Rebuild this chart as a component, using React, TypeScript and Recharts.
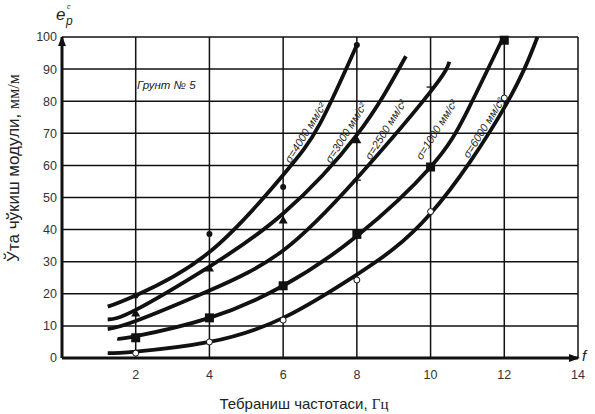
import React from "react";
import {
  ComposedChart,
  Line,
  Scatter,
  XAxis,
  YAxis,
  CartesianGrid,
  ReferenceDot,
} from "recharts";

// axis ticks
const freqTicks = [2, 4, 6, 8, 10, 12, 14];
const strainTicks = [0, 10, 20, 30, 40, 50, 60, 70, 80, 90, 100];

// fitted curves (f in Hz, e in mm/m)
const curve4000 = [
  { f: 1.24, e: 16 },
  { f: 2, e: 19.5 },
  { f: 4, e: 33 },
  { f: 6, e: 57 },
  { f: 7, e: 73 },
  { f: 8, e: 97.5 },
];
const curve3000 = [
  { f: 1.24, e: 12 },
  { f: 2, e: 15 },
  { f: 4, e: 28.5 },
  { f: 6, e: 45 },
  { f: 8, e: 69.5 },
  { f: 9.33, e: 94 },
];
const curve2500 = [
  { f: 1.24, e: 9 },
  { f: 2, e: 11.5 },
  { f: 4, e: 21 },
  { f: 6, e: 33.5 },
  { f: 8, e: 56 },
  { f: 10, e: 83 },
  { f: 10.51, e: 92.3 },
];
const curve1000 = [
  { f: 1.5, e: 6 },
  { f: 2, e: 6.8 },
  { f: 4, e: 12.5 },
  { f: 6, e: 22.5 },
  { f: 8, e: 38 },
  { f: 10, e: 59.5 },
  { f: 11, e: 77 },
  { f: 11.96, e: 99.6 },
];
const curve6000 = [
  { f: 1.24, e: 1.5 },
  { f: 2, e: 2 },
  { f: 4, e: 5 },
  { f: 6, e: 12.5 },
  { f: 8, e: 26 },
  { f: 10, e: 45 },
  { f: 12, e: 78 },
  { f: 12.9, e: 100 },
];

// measured points
const dots4000 = [
  { f: 2, e: 19.5 },
  { f: 4, e: 38.6 },
  { f: 6, e: 53.3 },
  { f: 8, e: 97.5 },
];
const tri3000 = [
  { f: 2, e: 14 },
  { f: 4, e: 28 },
  { f: 6, e: 43 },
  { f: 8, e: 68 },
];
const plus2500 = [
  { f: 8, e: 55.4 },
  { f: 10, e: 84.4 },
];
const sq1000 = [
  { f: 2, e: 6.3 },
  { f: 4, e: 12.5 },
  { f: 6, e: 22.5 },
  { f: 8, e: 38.5 },
  { f: 10, e: 59.5 },
  { f: 12, e: 99 },
];
const circ6000 = [
  { f: 2, e: 1.5 },
  { f: 4, e: 5 },
  { f: 6, e: 11.8 },
  { f: 8, e: 24.3 },
  { f: 10, e: 45.6 },
  { f: 12, e: 81 },
];

// curve captions and where they sit
const curveLabels = [
  { text: "σ=4000 мм/с²", f: 6.62, e: 70 },
  { text: "σ=3000 мм/с²", f: 7.72, e: 70 },
  { text: "σ=2500 мм/с²", f: 8.8, e: 71 },
  { text: "σ=1000 мм/с²", f: 10.18, e: 71 },
  { text: "σ=6000 мм/с²", f: 11.46, e: 71.5 },
];

const INK = "#111";

const DotShape = (p: any) => <circle cx={p.cx} cy={p.cy} r={3} fill={INK} />;
const TriShape = (p: any) => (
  <polygon
    points={`${p.cx},${p.cy - 4.5} ${p.cx - 4.5},${p.cy + 3.5} ${p.cx + 4.5},${p.cy + 3.5}`}
    fill={INK}
  />
);
const PlusShape = (p: any) => (
  <g stroke={INK} strokeWidth={1.3}>
    <line x1={p.cx - 4} y1={p.cy} x2={p.cx + 4} y2={p.cy} />
    <line x1={p.cx} y1={p.cy - 4} x2={p.cx} y2={p.cy + 4} />
  </g>
);
const SquareShape = (p: any) => (
  <rect x={p.cx - 4.5} y={p.cy - 4.5} width={9} height={9} fill={INK} />
);
const RingShape = (p: any) => (
  <circle cx={p.cx} cy={p.cy} r={3} fill="#fff" stroke={INK} strokeWidth={1} />
);

const curveLine = (data: { f: number; e: number }[], key: string) => (
  <Line
    key={key}
    data={data}
    dataKey="e"
    type="natural"
    stroke={INK}
    strokeWidth={3.8}
    dot={false}
    activeDot={false}
    isAnimationActive={false}
  />
);

export default function App() {
  return (
    <div style={{ position: "relative", width: 595, height: 414, background: "#fff" }}>
      <style>{"body{margin:0}"}</style>
      <ComposedChart
        width={595}
        height={414}
        margin={{ top: 37, right: 17, left: 0, bottom: 0 }}
      >
        <CartesianGrid stroke={INK} strokeWidth={1.5} />
        <XAxis
          dataKey="f"
          type="number"
          domain={[0, 14]}
          ticks={freqTicks}
          allowDataOverflow
          height={56}
          tickSize={0}
          tickMargin={12}
          axisLine={{ stroke: INK, strokeWidth: 3 }}
          tick={{ fontSize: 12.5, fill: "#333", fontFamily: "Liberation Sans, Arial" }}
        />
        <YAxis
          type="number"
          domain={[0, 100]}
          ticks={strainTicks}
          width={62}
          tickSize={0}
          tickMargin={5}
          axisLine={{ stroke: INK, strokeWidth: 3 }}
          tick={{ fontSize: 12.5, fill: "#333", fontFamily: "Liberation Sans, Arial" }}
        />
        {curveLine(curve4000, "c4000")}
        {curveLine(curve3000, "c3000")}
        {curveLine(curve2500, "c2500")}
        {curveLine(curve1000, "c1000")}
        {curveLine(curve6000, "c6000")}
        <Scatter data={dots4000} dataKey="e" shape={DotShape} isAnimationActive={false} />
        <Scatter data={tri3000} dataKey="e" shape={TriShape} isAnimationActive={false} />
        <Scatter data={plus2500} dataKey="e" shape={PlusShape} isAnimationActive={false} />
        <Scatter data={sq1000} dataKey="e" shape={SquareShape} isAnimationActive={false} />
        <Scatter data={circ6000} dataKey="e" shape={RingShape} isAnimationActive={false} />
        {curveLabels.map((l) => (
          <ReferenceDot
            key={l.text}
            x={l.f}
            y={l.e}
            ifOverflow="visible"
            shape={(p: any) => (
              <text
                x={p.cx}
                y={p.cy}
                transform={`rotate(-58 ${p.cx} ${p.cy})`}
                textAnchor="middle"
                dominantBaseline="middle"
                fontSize={11}
                fontStyle="italic"
                fontFamily="Liberation Sans, Arial"
                fill="#222"
              >
                {l.text}
              </text>
            )}
          />
        ))}
        {/* axis arrowheads */}
        <ReferenceDot
          x={14}
          y={0}
          ifOverflow="visible"
          shape={(p: any) => (
            <polygon
              points={`${p.cx + 2},${p.cy} ${p.cx - 9},${p.cy - 4} ${p.cx - 9},${p.cy + 4}`}
              fill={INK}
            />
          )}
        />
        <ReferenceDot
          x={0}
          y={100}
          ifOverflow="visible"
          shape={(p: any) => (
            <polygon
              points={`${p.cx},${p.cy - 1} ${p.cx - 4},${p.cy + 9} ${p.cx + 4},${p.cy + 9}`}
              fill={INK}
            />
          )}
        />
      </ComposedChart>

      {/* annotations */}
      <div
        style={{
          position: "absolute",
          left: 137,
          top: 79,
          fontFamily: "Liberation Sans, Arial",
          fontStyle: "italic",
          fontSize: 11.5,
          color: "#222",
        }}
      >
        Грунт № 5
      </div>
      <div
        style={{
          position: "absolute",
          left: 56,
          top: 6,
          fontFamily: "Liberation Sans, Arial",
          fontStyle: "italic",
          fontSize: 17,
          color: "#222",
          lineHeight: 1,
        }}
      >
        e
        <span style={{ position: "absolute", left: 10, top: 9, fontSize: 12 }}>p</span>
        <span style={{ position: "absolute", left: 11, top: -3, fontSize: 7 }}>c</span>
      </div>
      <div
        style={{
          position: "absolute",
          left: 582,
          top: 347,
          fontFamily: "Liberation Sans, Arial",
          fontStyle: "italic",
          fontSize: 15,
          color: "#222",
        }}
      >
        f
      </div>
      <div
        style={{
          position: "absolute",
          left: 0,
          top: 395,
          width: 608,
          textAlign: "center",
          fontFamily: "Liberation Sans, Arial",
          fontSize: 15,
          color: "#222",
        }}
      >
        Тебраниш частотаси,{" "}
        <span style={{ fontFamily: "Liberation Serif, Times New Roman" }}>Гц</span>
      </div>
      <div
        style={{
          position: "absolute",
          left: 14,
          top: 168,
          transform: "translate(-50%, -50%) rotate(-90deg)",
          whiteSpace: "nowrap",
          fontFamily: "Liberation Sans, Arial",
          fontSize: 17,
          color: "#222",
        }}
      >
        Ўта чўкиш модули,{" "}
        <span style={{ fontFamily: "Liberation Serif, Times New Roman", fontSize: 16 }}>
          мм/м
        </span>
      </div>
    </div>
  );
}
